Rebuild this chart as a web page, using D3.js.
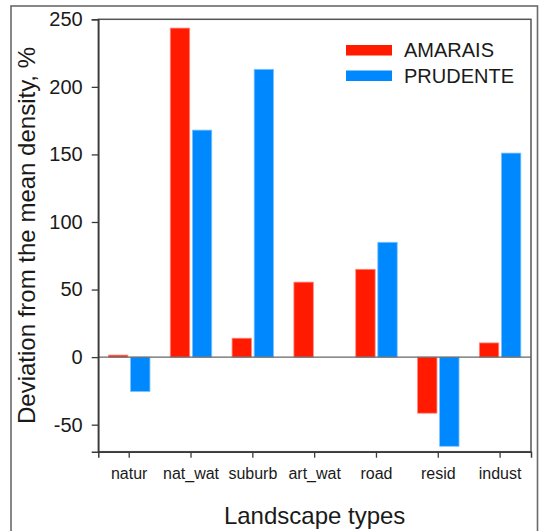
<!DOCTYPE html>
<html>
<head>
<meta charset="utf-8">
<script src="https://cdn.jsdelivr.net/npm/d3@7"></script>
<style>
  html, body { margin: 0; padding: 0; background: #fff; }
  svg { display: block; font-family: "Liberation Sans", Arial, sans-serif; }
</style>
</head>
<body>
<svg id="chart" width="540" height="531"></svg>
<script>
const categories = ["natur", "nat_wat", "suburb", "art_wat", "road", "resid", "indust"];
const seriesNames = ["AMARAIS", "PRUDENTE"];
const amarais = [1.5, 243.5, 14, 55.5, 65, -41.5, 10.5];
const prudente = [-25.5, 168, 213, 0, 85, -66, 151];
const yTicks = [-50, 0, 50, 100, 150, 200, 250];
const colors = ["#ff1a00", "#0088ff"];

(function () {
const svg = d3.select("#chart");
const pLeft = 98.3, pRight = 531, pTop = 19.3, pBottom = 451.7;
const textColor = "#1a1a1a";
const lineColor = "#3a3a3a";

// outer frame
svg.append("rect")
  .attr("x", 11).attr("y", 6)
  .attr("width", 526.5).attr("height", 540)
  .attr("fill", "none").attr("stroke", "#6a6a6a").attr("stroke-width", 1.6);

const x0 = d3.scaleBand().domain(categories).range([pLeft, pRight]).padding(0);
const groupPad = 10.15;
const x1 = d3.scaleBand().domain(seriesNames)
  .range([groupPad, x0.bandwidth() - groupPad]).paddingInner(0.12).paddingOuter(0);
const y = d3.scaleLinear().domain([-70, 250]).range([pBottom, pTop]);

const data = categories.map((c, i) => ({ cat: c, vals: [amarais[i], prudente[i]] }));

// bars
const g = svg.append("g");
data.forEach(d => {
  d.vals.forEach((v, j) => {
    if (v === 0) return;
    g.append("rect")
      .attr("x", x0(d.cat) + x1(seriesNames[j]))
      .attr("width", x1.bandwidth())
      .attr("y", y(Math.max(0, v)))
      .attr("height", Math.abs(y(v) - y(0)))
      .attr("fill", colors[j])
      .attr("stroke", j === 0 ? "#ff8a80" : "#80c4ff")
      .attr("stroke-width", 0.8);
  });
});

// zero line
svg.append("line")
  .attr("x1", pLeft).attr("x2", pRight)
  .attr("y1", y(0)).attr("y2", y(0))
  .attr("stroke", "#666").attr("stroke-width", 1.3);

// plot frame
svg.append("rect")
  .attr("x", pLeft).attr("y", pTop)
  .attr("width", pRight - pLeft).attr("height", pBottom - pTop)
  .attr("fill", "none").attr("stroke", "#555").attr("stroke-width", 1.5);

// y axis
const yAxis = d3.axisLeft(y).tickValues(yTicks).tickSize(6.6).tickPadding(9).tickFormat(d3.format("d"));
const yg = svg.append("g").attr("transform", `translate(${pLeft},0)`).call(yAxis);
yg.select(".domain").attr("stroke", lineColor).attr("stroke-width", 1.5);
yg.selectAll(".tick line").attr("stroke", lineColor).attr("stroke-width", 1.3);
yg.selectAll(".tick text").attr("font-size", 20).attr("fill", textColor)
  .attr("font-family", "'Liberation Sans', Arial, sans-serif").text(d => d < 0 ? "-" + Math.abs(d) : d);

// x axis
const xAxis = d3.axisBottom(x0).tickSize(6).tickPadding(10);
const xg = svg.append("g").attr("transform", `translate(0,${pBottom})`).call(xAxis);
xg.select(".domain").attr("stroke", lineColor).attr("stroke-width", 1.5);
xg.selectAll(".tick line").attr("stroke", lineColor).attr("stroke-width", 1.3);
xg.selectAll(".tick text").attr("font-size", 16).attr("fill", textColor)
  .attr("font-family", "'Liberation Sans', Arial, sans-serif");

// axis titles
svg.append("text")
  .attr("x", (pLeft + pRight) / 2).attr("y", 524)
  .attr("text-anchor", "middle").attr("font-size", 24).attr("fill", textColor)
  .text("Landscape types");
svg.append("text")
  .attr("transform", `translate(35,${(pTop + pBottom) / 2}) rotate(-90)`)
  .attr("text-anchor", "middle").attr("font-size", 24).attr("fill", textColor)
  .text("Deviation from the mean density, %");

// legend
const legend = svg.append("g");
seriesNames.forEach((s, i) => {
  const ly = 45 + i * 25.5;
  legend.append("rect")
    .attr("x", 346).attr("y", ly).attr("width", 46).attr("height", 10.5)
    .attr("fill", colors[i]);
  legend.append("text")
    .attr("x", 404).attr("y", ly + 12)
    .attr("font-size", 20).attr("fill", textColor)
    .text(s);
});
})();
</script>
</body>
</html>
